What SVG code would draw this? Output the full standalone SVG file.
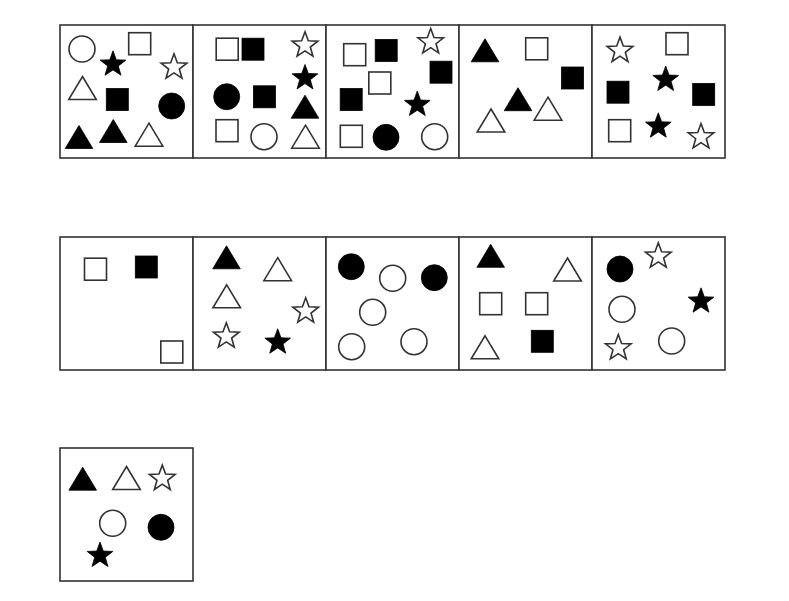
<svg xmlns="http://www.w3.org/2000/svg" xmlns:xlink="http://www.w3.org/1999/xlink" width="789" height="601" viewBox="0 0 789 601">
<style>
.box{fill:#fff;stroke:#333;stroke-width:1.6}
.o{fill:#fff;stroke:#333;stroke-width:1.6;stroke-linejoin:miter}
.f{fill:#000;stroke:#000;stroke-width:0.8}
</style>
<defs>
<path id="st" d="M0,-12.2 L3.29,-3.23 L12.84,-2.87 L5.33,3.03 L7.94,12.22 L0,6.9 L-7.94,12.22 L-5.33,3.03 L-12.84,-2.87 L-3.29,-3.23 Z"/>
<path id="tr" d="M0,-11.5 L13.8,11.5 L-13.8,11.5 Z"/>
<rect id="sq" x="-11" y="-11" width="22" height="22"/>
<circle id="ci" cx="0" cy="0" r="13"/>
</defs>
<rect width="789" height="601" fill="#fff"/>
<g id="r1p1">
<rect class="box" x="60" y="25" width="133" height="133"/>
<use href="#ci" class="o" x="82" y="49"/>
<use href="#st" class="f" x="113" y="63"/>
<use href="#sq" class="o" x="139.7" y="43.7"/>
<use href="#st" class="o" x="174" y="66"/>
<use href="#tr" class="o" x="82.5" y="88"/>
<use href="#sq" class="f" x="117.3" y="99.5"/>
<use href="#ci" class="f" x="171.7" y="106"/>
<use href="#tr" class="f" x="79" y="137"/>
<use href="#tr" class="f" x="113.3" y="131"/>
<use href="#tr" class="o" x="149" y="134.7"/>
</g>
<g id="r1p2">
<rect class="box" x="193" y="25" width="133" height="133"/>
<use href="#sq" class="o" x="227.2" y="49.2"/>
<use href="#sq" class="f" x="253" y="49.2"/>
<use href="#st" class="o" x="305" y="44"/>
<use href="#st" class="f" x="305" y="76.7"/>
<use href="#ci" class="f" x="226.7" y="96.7"/>
<use href="#sq" class="f" x="264.5" y="96.8"/>
<use href="#tr" class="f" x="305" y="106.7"/>
<use href="#sq" class="o" x="227" y="130.7"/>
<use href="#ci" class="o" x="264" y="136.7"/>
<use href="#tr" class="o" x="305.5" y="136.7"/>
</g>
<g id="r1p3">
<rect class="box" x="326" y="25" width="133" height="133"/>
<use href="#sq" class="o" x="354.7" y="54.7"/>
<use href="#sq" class="f" x="386.2" y="50.5"/>
<use href="#st" class="o" x="430.7" y="40.7"/>
<use href="#sq" class="f" x="441" y="72.2"/>
<use href="#sq" class="o" x="379.8" y="83"/>
<use href="#sq" class="f" x="351.2" y="99.5"/>
<use href="#st" class="f" x="417.3" y="103.3"/>
<use href="#sq" class="o" x="351.3" y="136.3"/>
<use href="#ci" class="f" x="386" y="137.3"/>
<use href="#ci" class="o" x="434.7" y="136.7"/>
</g>
<g id="r1p4">
<rect class="box" x="459" y="25" width="133" height="133"/>
<use href="#tr" class="f" x="485" y="50.3"/>
<use href="#sq" class="o" x="536.7" y="48.8"/>
<use href="#sq" class="f" x="572.5" y="78"/>
<use href="#tr" class="f" x="518" y="99.2"/>
<use href="#tr" class="o" x="548" y="108.7"/>
<use href="#tr" class="o" x="491" y="120.5"/>
</g>
<g id="r1p5">
<rect class="box" x="592" y="25" width="133" height="133"/>
<use href="#st" class="o" x="620" y="49.3"/>
<use href="#sq" class="o" x="677" y="43.7"/>
<use href="#st" class="f" x="665.7" y="78.3"/>
<use href="#sq" class="f" x="618" y="92.2"/>
<use href="#sq" class="f" x="703.7" y="94.5"/>
<use href="#sq" class="o" x="619.7" y="130.7"/>
<use href="#st" class="f" x="658.3" y="125"/>
<use href="#st" class="o" x="701" y="135.7"/>
</g>
<g id="r2p1">
<rect class="box" x="60" y="237" width="133" height="133"/>
<use href="#sq" class="o" x="95.5" y="269.2"/>
<use href="#sq" class="f" x="146.3" y="267"/>
<use href="#sq" class="o" x="171.8" y="352"/>
</g>
<g id="r2p2">
<rect class="box" x="193" y="237" width="133" height="133"/>
<use href="#tr" class="f" x="226.5" y="257.3"/>
<use href="#tr" class="o" x="277.7" y="269.2"/>
<use href="#tr" class="o" x="226.7" y="296.3"/>
<use href="#st" class="o" x="305.7" y="310"/>
<use href="#st" class="o" x="226.3" y="335"/>
<use href="#st" class="f" x="277.7" y="341"/>
</g>
<g id="r2p3">
<rect class="box" x="326" y="237" width="133" height="133"/>
<use href="#ci" class="f" x="351.3" y="266.7"/>
<use href="#ci" class="o" x="392.7" y="278.3"/>
<use href="#ci" class="f" x="434.3" y="277.7"/>
<use href="#ci" class="o" x="372.7" y="312.3"/>
<use href="#ci" class="o" x="351.7" y="346.7"/>
<use href="#ci" class="o" x="414" y="341.7"/>
</g>
<g id="r2p4">
<rect class="box" x="459" y="237" width="133" height="133"/>
<use href="#tr" class="f" x="490.7" y="255.8"/>
<use href="#tr" class="o" x="567.5" y="269.5"/>
<use href="#sq" class="o" x="490.7" y="303.7"/>
<use href="#sq" class="o" x="536.7" y="303.7"/>
<use href="#tr" class="o" x="485" y="347.3"/>
<use href="#sq" class="f" x="542.3" y="341.3"/>
</g>
<g id="r2p5">
<rect class="box" x="592" y="237" width="133" height="133"/>
<use href="#ci" class="f" x="620" y="269"/>
<use href="#st" class="o" x="658.3" y="255"/>
<use href="#ci" class="o" x="622" y="309.3"/>
<use href="#st" class="f" x="701" y="300"/>
<use href="#st" class="o" x="618.3" y="346.7"/>
<use href="#ci" class="o" x="671.7" y="341"/>
</g>
<g id="r3p1">
<rect class="box" x="60" y="448" width="133" height="133"/>
<use href="#tr" class="f" x="82.7" y="478.7"/>
<use href="#tr" class="o" x="126.5" y="478"/>
<use href="#st" class="o" x="162.3" y="477.3"/>
<use href="#ci" class="o" x="112.7" y="523.3"/>
<use href="#ci" class="f" x="161" y="527.3"/>
<use href="#st" class="f" x="100" y="554.3"/>
</g>
</svg>
